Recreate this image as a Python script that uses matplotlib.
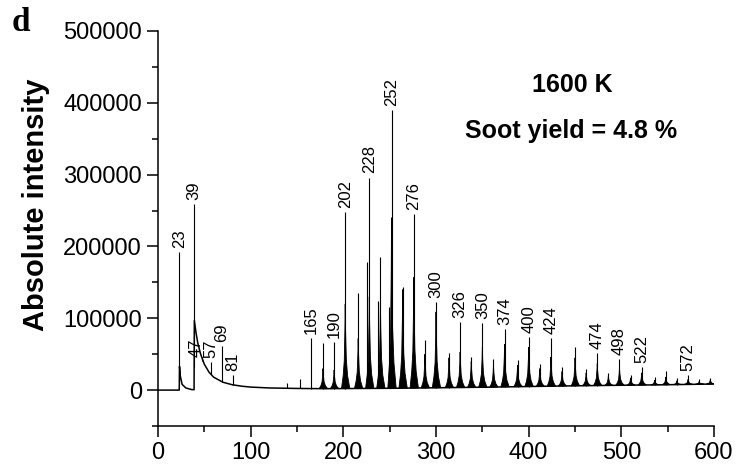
import numpy as np
import matplotlib.pyplot as plt
from matplotlib.ticker import MultipleLocator

plt.rcParams['font.family'] = ['Liberation Sans', 'DejaVu Sans']

# continuum under the peaks (mass, intensity)
bl_mass = [0, 22.9, 23.2, 24, 26, 30, 36, 38.9, 39.2, 41, 43, 46, 50, 55, 60, 70,
           80, 90, 100, 120, 150, 180, 250, 350, 450, 550, 600]
bl_val = [0, 0, 33000, 20000, 8000, 3000, 800, 500, 97000, 80000, 65000, 50000,
          36000, 25000, 18000, 11000, 7500, 5500, 4200, 3000, 2300, 2000, 2500,
          4000, 6000, 7500, 8500]

# PAH cluster series: mass, tip height, body height
cl_mass = [178, 190, 202, 216, 228, 240, 252, 264, 276, 288, 300, 314, 326, 338,
           350, 362, 374, 388, 400, 412, 424, 436, 450, 462, 474, 486, 498, 510,
           522, 536, 548, 560, 572, 584, 596]
cl_top = [65000, 67000, 248000, 135000, 296000, 185000, 390000, 144000, 245000,
          70000, 123000, 51000, 95000, 46000, 93000, 43000, 85000, 42000, 74000,
          37000, 72000, 32000, 60000, 29000, 51000, 24000, 43000, 21000, 32000,
          18500, 27000, 17000, 21000, 15000, 17000]
cl_body = [30000, 28000, 120000, 72000, 130000, 123000, 240000, 140000, 157000,
           50000, 109000, 45000, 53000, 40000, 60000, 35000, 64000, 35000, 60000,
           30000, 46000, 26000, 45000, 24000, 37000, 20000, 31000, 17000, 24000,
           14000, 18000, 13000, 15000, 12000, 14000]

# isolated sticks
st_mass = [23, 39, 47, 57, 69, 81, 139, 153, 165, 226, 237, 249]
st_top = [192000, 259000, 40000, 39000, 61000, 21000, 9700, 15000, 72000,
          178000, 124000, 116000]

lab_mass = [23, 39, 47, 57, 69, 81, 165, 190, 202, 228, 252, 276, 300, 326, 350,
            374, 400, 424, 474, 498, 522, 572]

fig = plt.figure(figsize=(7.36, 4.68), dpi=100)
ax = fig.add_axes([0.2147, 0.0897, 0.7554, 0.8441])

ax.plot(bl_mass, bl_val, color='black', lw=1.1)

# peak body outline, tailing towards high mass
dm = np.array([-4.0, -2.2, -1.0, -0.3, 0, 0.4, 1.2, 2.6, 5.0])
fr = np.array([0, 0.15, 0.33, 0.7, 1, 0.7, 0.35, 0.15, 0])
for m, b in zip(cl_mass, cl_body):
    xs = m + dm
    base = np.interp(xs, bl_mass, bl_val)
    ax.fill(xs, base + fr * (b - np.interp(m, bl_mass, bl_val)),
            color='black', lw=0.6)

all_mass = cl_mass + st_mass
all_top = cl_top + st_top
ax.vlines(all_mass, np.interp(all_mass, bl_mass, bl_val), all_top,
          color='black', lw=0.8)

tops = dict(zip(all_mass, all_top))
for m in lab_mass:
    dx = -4 if m == 47 else 0
    ax.annotate(str(m), (m, tops[m]), xytext=(dx, 3), textcoords='offset points',
                rotation=90, ha='center', va='bottom', fontsize=12)

ax.text(447, 425000, '1600 K', ha='center', va='center', fontsize=18,
        fontweight='bold')
ax.text(446, 361000, 'Soot yield = 4.8 %', ha='center', va='center',
        fontsize=18, fontweight='bold')

ax.set_xlim(0, 600)
ax.set_ylim(-50000, 500000)
ax.xaxis.set_major_locator(MultipleLocator(100))
ax.xaxis.set_minor_locator(MultipleLocator(50))
ax.yaxis.set_major_locator(MultipleLocator(100000))
ax.yaxis.set_minor_locator(MultipleLocator(50000))
ax.tick_params(which='major', length=8, width=1.1, labelsize=17, direction='out')
ax.tick_params(which='minor', length=4, width=1.1, direction='out')
for s in ['top', 'right']:
    ax.spines[s].set_visible(False)
for s in ['left', 'bottom']:
    ax.spines[s].set_linewidth(1.1)

ax.set_ylabel('Absolute intensity', fontsize=21, fontweight='bold')
ax.yaxis.set_label_coords(-0.195, 0.56)

fig.text(0.016, 0.952, 'd', family='Liberation Serif', fontweight='bold',
         fontsize=24, va='center')

fig.savefig('out.png', dpi=100)
